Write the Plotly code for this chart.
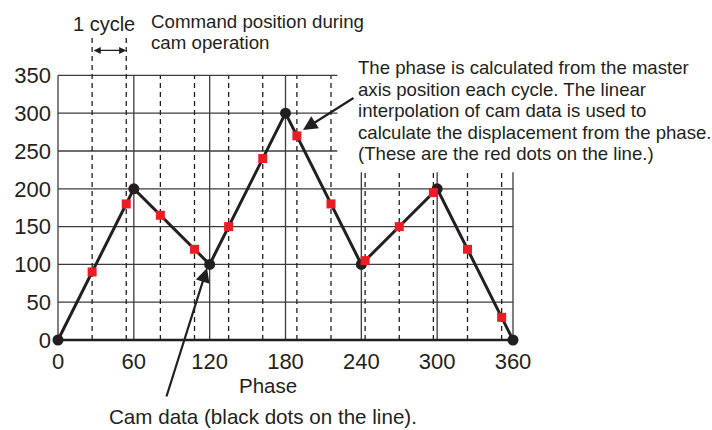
import plotly.graph_objects as go

# Cam table (black dots) and the command positions computed every cycle (red dots)
cam_phase = [0, 60, 120, 180, 240, 300, 360]
cam_disp = [0, 200, 100, 300, 100, 200, 0]

cycle_phase = [27, 54, 81, 108, 135, 162, 189, 216, 243, 270, 297, 324, 351]
cycle_disp = [90, 180, 165, 120, 150, 240, 270, 180, 105, 150, 195, 120, 30]

x_ticks = [0, 60, 120, 180, 240, 300, 360]
y_ticks = [0, 50, 100, 150, 200, 250, 300, 350]

# grid extents
full_rows = [50, 100, 150, 200]
short_rows = [250, 300, 350]
short_row_end = 221
tall_cols = [60, 120, 180]
short_cols = [240, 300, 360]
short_col_top = 222
grid_top = 350
first_cycles = [27, 54]
first_cycle_top = 400
cycle_span_y = 383

INK = "#231f20"
RED = "#ec1c24"
GRID = "#3c3c3c"
FONT = "Liberation Sans, Arial, sans-serif"

W, H = 712, 430
# pixel placement of the data frame
X0_PX, X_SCALE = 58.0, 455.0 / 360.0
Y0_PX, Y_SCALE = 340.0, 264.6 / 350.0
x_range = [-X0_PX / X_SCALE, (W - X0_PX) / X_SCALE]
y_range = [-(H - Y0_PX) / Y_SCALE, Y0_PX / Y_SCALE]


def px(x):
    return x / W


def py(y):
    return 1 - y / H


shapes = []


def seg(x0, y0, x1, y1, width=1.3, color=GRID, dash=None):
    line = dict(color=color, width=width)
    if dash:
        line["dash"] = dash
    shapes.append(dict(type="line", xref="x", yref="y", x0=x0, y0=y0, x1=x1, y1=y1,
                       line=line, layer="below"))


for v in full_rows:
    seg(0, v, 360, v)
for v in short_rows:
    seg(0, v, short_row_end, v)
seg(0, 0, 0, grid_top)
for c in tall_cols:
    seg(c, 0, c, grid_top)
for c in short_cols:
    seg(c, 0, c, short_col_top)
for c in cycle_phase:
    if c in first_cycles:
        top = first_cycle_top
    elif c < short_row_end:
        top = grid_top
    else:
        top = short_col_top
    seg(c, 0, c, top, width=1.3, color=INK, dash="5px,4px")
seg(0, 0, 360, 0, width=2.4, color=INK)

fig = go.Figure()
fig.add_trace(go.Scatter(
    x=cam_phase, y=cam_disp, mode="lines+markers",
    line=dict(color=INK, width=3),
    marker=dict(symbol="circle", size=11, color=INK),
    cliponaxis=False, hoverinfo="skip", showlegend=False))
fig.add_trace(go.Scatter(
    x=cycle_phase, y=cycle_disp, mode="markers",
    marker=dict(symbol="square", size=9, color=RED, line=dict(width=0)),
    cliponaxis=False, hoverinfo="skip", showlegend=False))

annotations = []


def text(s, x, y, size, xanchor="left"):
    annotations.append(dict(text=s, xref="paper", yref="paper", x=px(x), y=py(y),
                            xanchor=xanchor, yanchor="middle", showarrow=False,
                            font=dict(family=FONT, size=size, color=INK)))


text("1 cycle", 104, 24, 20, xanchor="center")
text("Command position during", 149, 21, 18.7)
text("cam operation", 149, 42.5, 18.7)
note_lines = [
    "The phase is calculated from the master",
    "axis position each cycle. The linear",
    "interpolation of cam data is used to",
    "calculate the displacement from the phase.",
    "(These are the red dots on the line.)",
]
for i, line in enumerate(note_lines):
    text(line, 356, 68 + i * 21.4, 18.6)
text("Phase", 267.5, 385, 20.5, xanchor="center")
text("Cam data (black dots on the line).", 107, 416.5, 20.6)

# one-cycle span arrow
annotations.append(dict(xref="x", yref="y", axref="x", ayref="y",
                        x=first_cycles[1], y=cycle_span_y, ax=first_cycles[0], ay=cycle_span_y,
                        text="", showarrow=True, arrowhead=2, startarrowhead=2,
                        arrowside="end+start", arrowsize=1.1, startarrowsize=1.1,
                        arrowwidth=1.3, arrowcolor=INK, standoff=0, startstandoff=0))
# pointer to a computed command position
annotations.append(dict(xref="paper", yref="paper", x=px(303), y=py(130),
                        ax=52, ay=-33, text="", showarrow=True, arrowhead=2,
                        arrowsize=1.3, arrowwidth=2.2, arrowcolor=INK, standoff=0))
# pointer to a cam data point
annotations.append(dict(xref="paper", yref="paper", x=px(207), y=py(268),
                        ax=-41, ay=130, text="", showarrow=True, arrowhead=2,
                        arrowsize=1.3, arrowwidth=2.2, arrowcolor=INK, standoff=0))

fig.update_layout(
    width=W, height=H,
    margin=dict(l=0, r=0, t=0, b=0),
    paper_bgcolor="white", plot_bgcolor="white",
    shapes=shapes, annotations=annotations,
    xaxis=dict(range=x_range, tickvals=x_ticks, anchor="free", position=py(Y0_PX),
               showgrid=False, zeroline=False, showline=False, ticks="",
               tickfont=dict(family=FONT, size=22, color=INK),
               ticklabelstandoff=6, automargin=False, fixedrange=True),
    yaxis=dict(range=y_range, tickvals=y_ticks, anchor="free", position=px(X0_PX),
               showgrid=False, zeroline=False, showline=False, ticks="",
               tickfont=dict(family=FONT, size=22, color=INK),
               ticklabelstandoff=7, automargin=False, fixedrange=True),
)

fig.write_html("out.html", config={"displayModeBar": False})
